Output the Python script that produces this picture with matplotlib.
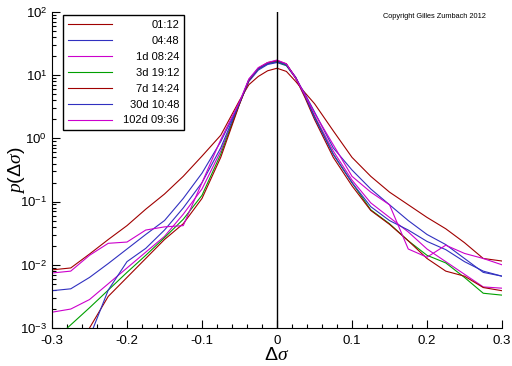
import matplotlib
matplotlib.use("Agg")
import matplotlib.pyplot as plt
import numpy as np

plt.rcParams["font.family"] = ["Liberation Sans", "DejaVu Sans"]
plt.rcParams["mathtext.fontset"] = "custom"
plt.rcParams["mathtext.rm"] = "Liberation Sans"
plt.rcParams["mathtext.it"] = "Liberation Serif:italic"

# change of volatility (x) and log10 of the density
dsigma = [-0.3, -0.275, -0.25, -0.225, -0.2, -0.175, -0.15, -0.125, -0.1, -0.075,
          -0.05, -0.0375, -0.025, -0.0125, 0.0, 0.0125, 0.025, 0.0375, 0.05,
          0.075, 0.1, 0.125, 0.15, 0.175, 0.2, 0.225, 0.25, 0.275, 0.3]

logp_0112 = [-2.08, -2.05, -1.83, -1.6, -1.38, -1.12, -0.88, -0.6, -0.28, 0.05,
             0.6, 0.85, 0.98, 1.07, 1.11, 1.06, 0.9, 0.72, 0.55,
             0.12, -0.3, -0.6, -0.85, -1.05, -1.25, -1.43, -1.65, -1.9, -1.94]
logp_0448 = [-2.41, -2.38, -2.2, -1.98, -1.75, -1.52, -1.3, -0.95, -0.55, -0.05,
             0.55, 0.9, 1.08, 1.17, 1.2, 1.15, 0.95, 0.7, 0.42,
             -0.15, -0.5, -0.8, -1.05, -1.3, -1.52, -1.68, -1.9, -2.12, -2.18]
logp_1d = [-2.75, -2.7, -2.55, -2.3, -2.05, -1.8, -1.55, -1.2, -0.8, -0.2,
           0.55, 0.93, 1.1, 1.19, 1.22, 1.17, 0.97, 0.68, 0.36,
           -0.2, -0.66, -1.02, -1.25, -1.48, -1.75, -1.95, -2.15, -2.35, -2.37]
logp_3d = [-3.22, -2.95, -2.68, -2.4, -2.12, -1.85, -1.57, -1.28, -0.9, -0.25,
           0.55, 0.93, 1.1, 1.19, 1.21, 1.16, 0.96, 0.66, 0.34,
           -0.25, -0.7, -1.13, -1.35, -1.62, -1.85, -1.97, -2.2, -2.45, -2.48]
logp_7d = [-4.0, -3.5, -3.0, -2.5, -2.2, -1.9, -1.6, -1.35, -0.95, -0.3,
           0.54, 0.92, 1.11, 1.2, 1.23, 1.18, 0.95, 0.64, 0.3,
           -0.3, -0.75, -1.14, -1.36, -1.62, -1.9, -2.1, -2.18, -2.36, -2.41]
logp_30d = [-4.0, -3.6, -3.15, -2.4, -1.95, -1.74, -1.45, -1.1, -0.7, -0.15,
            0.56, 0.93, 1.1, 1.18, 1.21, 1.17, 0.96, 0.67, 0.33,
            -0.25, -0.7, -1.08, -1.3, -1.45, -1.63, -1.76, -1.95, -2.1, -2.18]
logp_102d = [-2.13, -2.1, -1.85, -1.66, -1.64, -1.45, -1.4, -1.38, -0.7, -0.02,
             0.58, 0.94, 1.12, 1.2, 1.24, 1.18, 0.95, 0.68, 0.4,
             -0.1, -0.6, -0.85, -1.05, -1.75, -1.88, -1.69, -1.82, -1.9, -2.0]

labels = ["01:12", "04:48", "1d 08:24", "3d 19:12", "7d 14:24", "30d 10:48", "102d 09:36"]
series = [logp_0112, logp_0448, logp_1d, logp_3d, logp_7d, logp_30d, logp_102d]
colors = ["#a00000", "#3030c0", "#cc00cc", "#00a000", "#a00000", "#3030c0", "#cc00cc"]

fig = plt.figure(figsize=(5.12, 3.66), dpi=100)
ax = fig.add_axes([52 / 512, 1 - 328 / 366, 450 / 512, 316 / 366])

x = np.array(dsigma)
for logp, lab, c in zip(series, labels, colors):
    ax.plot(x, 10 ** np.array(logp), color=c, lw=0.8, label=lab)

ax.axvline(0, color="black", lw=1.0)

ax.set_yscale("log")
ax.set_xlim(-0.3, 0.3)
ax.set_ylim(1e-3, 1e2)
ax.set_xticks(np.arange(-0.3, 0.31, 0.1))
ax.set_xticklabels(["-0.3", "-0.2", "-0.1", "0", "0.1", "0.2", "0.3"])
ax.set_xticks(np.arange(-0.3, 0.301, 0.02), minor=True)
ax.set_yticks([1e-3, 1e-2, 1e-1, 1e0, 1e1, 1e2])
ax.set_yticklabels([r"$10^{-3}$", r"$10^{-2}$", r"$10^{-1}$", r"$10^{0}$", r"$10^{1}$", r"$10^{2}$"])
ax.tick_params(which="both", direction="in", labelsize=9.5, colors="black", width=0.8)
ax.tick_params(which="major", length=6)
ax.tick_params(which="minor", length=3)
ax.tick_params(axis="x", pad=5)
ax.spines["top"].set_visible(False)
ax.spines["right"].set_visible(False)

ax.set_xlabel(r"$\Delta\sigma$", fontsize=14, labelpad=0)
ax.set_ylabel(r"$\mathit{p}(\Delta\sigma)$", fontsize=14)
ax.yaxis.set_label_coords(-0.055, 0.5)

leg = ax.legend(loc="upper left", bbox_to_anchor=(0.024, 0.99), borderaxespad=0,
                fancybox=False, framealpha=1, edgecolor="black", fontsize=8,
                handlelength=4.0, handletextpad=1.0, labelspacing=0.53,
                borderpad=0.45)
leg.get_frame().set_linewidth(1.0)
fig.canvas.draw()
renderer = fig.canvas.get_renderer()
widths = [t.get_window_extent(renderer).width for t in leg.get_texts()]
for t, w in zip(leg.get_texts(), widths):
    t.set_ha("right")
    t.set_position((max(widths) - w, 0))

fig.text(383 / 512, 1 - 17 / 366, "Copyright Gilles Zumbach 2012", fontsize=5.3,
         va="center", ha="left")

fig.savefig("out.png", dpi=100)
